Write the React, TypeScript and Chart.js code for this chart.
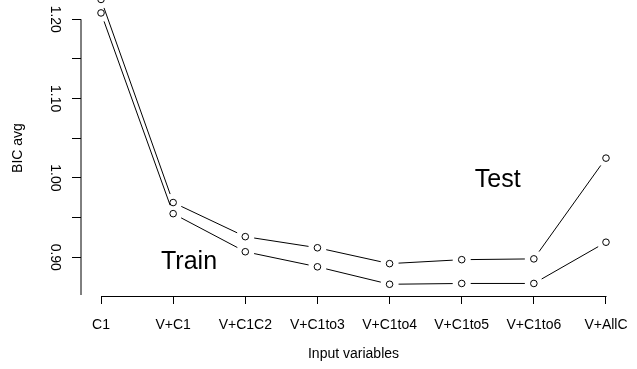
import React, { useEffect, useRef } from "react";
import { Chart, registerables } from "chart.js";

Chart.register(...registerables);

const categories = ["C1", "V+C1", "V+C1C2", "V+C1to3", "V+C1to4", "V+C1to5", "V+C1to6", "V+AllC"];
const testValues = [1.225, 0.969, 0.926, 0.912, 0.892, 0.897, 0.898, 1.025];
const trainValues = [1.208, 0.955, 0.907, 0.888, 0.866, 0.867, 0.867, 0.919];
const yTickValues = [0.9, 0.95, 1.0, 1.05, 1.1, 1.15, 1.2];
const yTickLabels = ["0.90", "", "1.00", "", "1.10", "", "1.20"];
const annotations = [
  { text: "Train", x: 2.22, y: 0.896 },
  { text: "Test", x: 6.5, y: 1.0 },
];

const FONT = '"Liberation Sans", Arial, Helvetica, sans-serif';
const GAP = 9;

const rLinesPlugin = {
  id: "rLines",
  afterDatasetsDraw(chart: any) {
    const ctx = chart.ctx;
    ctx.save();
    ctx.strokeStyle = "#000";
    ctx.lineWidth = 1;
    chart.data.datasets.forEach((_ds: any, di: number) => {
      const pts = chart.getDatasetMeta(di).data;
      for (let i = 0; i < pts.length - 1; i++) {
        const a = pts[i];
        const b = pts[i + 1];
        const dx = b.x - a.x;
        const dy = b.y - a.y;
        const d = Math.hypot(dx, dy);
        if (d <= 2 * GAP) continue;
        const ux = dx / d;
        const uy = dy / d;
        ctx.beginPath();
        ctx.moveTo(a.x + ux * GAP, a.y + uy * GAP);
        ctx.lineTo(b.x - ux * GAP, b.y - uy * GAP);
        ctx.stroke();
      }
    });
    ctx.restore();
  },
};

const rAxesPlugin = {
  id: "rAxes",
  afterDraw(chart: any) {
    const ctx = chart.ctx;
    const xs = chart.scales.x;
    const ys = chart.scales.y;
    const area = chart.chartArea;
    ctx.save();
    ctx.strokeStyle = "#000";
    ctx.lineWidth = 1;
    // y axis line
    ctx.beginPath();
    ctx.moveTo(area.left, ys.getPixelForValue(yTickValues[yTickValues.length - 1]));
    ctx.lineTo(area.left, area.bottom - 1);
    ctx.stroke();
    // x axis line
    const yy = Math.round(area.bottom) + 0.5;
    ctx.beginPath();
    ctx.moveTo(Math.round(xs.getPixelForValue(1)) + 0.5, yy);
    ctx.lineTo(Math.round(xs.getPixelForValue(categories.length)) + 0.5, yy);
    ctx.stroke();
    // annotations
    ctx.fillStyle = "#000";
    ctx.font = `25px ${FONT}`;
    ctx.textAlign = "center";
    ctx.textBaseline = "alphabetic";
    annotations.forEach((a) => {
      const px = xs.getPixelForValue(a.x);
      const py = ys.getPixelForValue(a.y);
      ctx.fillText(a.text, px, py + 0.716 * 25 / 2);
    });
    ctx.restore();
  },
};

export default function App() {
  const ref = useRef<HTMLCanvasElement>(null);
  useEffect(() => {
    if (!ref.current) return;
    const pointStyle = {
      showLine: false,
      pointRadius: 3.3,
      pointBorderWidth: 1,
      pointBorderColor: "#000",
      pointBackgroundColor: "rgba(0,0,0,0)",
      borderColor: "#000",
      clip: false as any,
    };
    const chart = new Chart(ref.current, {
      type: "line",
      data: {
        datasets: [
          { label: "Test", data: testValues.map((v, i) => ({ x: i + 1, y: v })), ...pointStyle },
          { label: "Train", data: trainValues.map((v, i) => ({ x: i + 1, y: v })), ...pointStyle },
        ],
      },
      options: {
        animation: false,
        responsive: false,
        devicePixelRatio: 1,
        events: [],
        layout: { autoPadding: false, padding: { top: 0, left: 0, bottom: 0, right: 11 } },
        plugins: { legend: { display: false }, tooltip: { enabled: false } },
        scales: {
          x: {
            type: "linear",
            min: 0.7226,
            max: 8.2774,
            bounds: "data",
            afterBuildTicks: (s: any) => {
              s.ticks = categories.map((_c, i) => ({ value: i + 1 }));
            },
            afterFit: (s: any) => {
              s.height = 73;
              s.paddingLeft = 0;
              s.paddingRight = 0;
            },
            border: { display: false },
            grid: { display: true, drawOnChartArea: false, drawTicks: true, tickLength: 8, color: "#000", lineWidth: 1 },
            ticks: {
              autoSkip: false,
              maxRotation: 0,
              minRotation: 0,
              padding: 13,
              color: "#000",
              font: { family: FONT, size: 14 },
              callback: (_v: any, i: number) => categories[i],
            },
            title: {
              display: true,
              text: "Input variables",
              color: "#000",
              font: { family: FONT, size: 14 },
              padding: { top: 0, bottom: 6 },
            },
          },
          y: {
            type: "linear",
            min: 0.8512,
            max: 1.2243,
            bounds: "data",
            afterBuildTicks: (s: any) => {
              s.ticks = yTickValues.map((v) => ({ value: v }));
            },
            afterFit: (s: any) => {
              s.width = 81;
              s.paddingTop = 0;
              s.paddingBottom = 0;
            },
            border: { display: false },
            grid: { display: true, drawOnChartArea: false, drawTicks: true, tickLength: 9, color: "#000", lineWidth: 1 },
            ticks: {
              autoSkip: false,
              minRotation: -90,
              maxRotation: -90,
              crossAlign: "center",
              padding: 4,
              color: "#000",
              font: { family: FONT, size: 14 },
              callback: (_v: any, i: number) => yTickLabels[i],
            },
            title: {
              display: true,
              text: "BIC avg",
              color: "#000",
              font: { family: FONT, size: 14 },
              padding: { top: 10, bottom: 0 },
            },
          },
        },
      },
      plugins: [rLinesPlugin, rAxesPlugin],
    });
    return () => chart.destroy();
  }, []);
  return (
    <div style={{ position: "absolute", left: 0, top: 0, width: 637, height: 369, background: "#fff" }}>
      <canvas ref={ref} width={637} height={369} style={{ display: "block" }} />
    </div>
  );
}
